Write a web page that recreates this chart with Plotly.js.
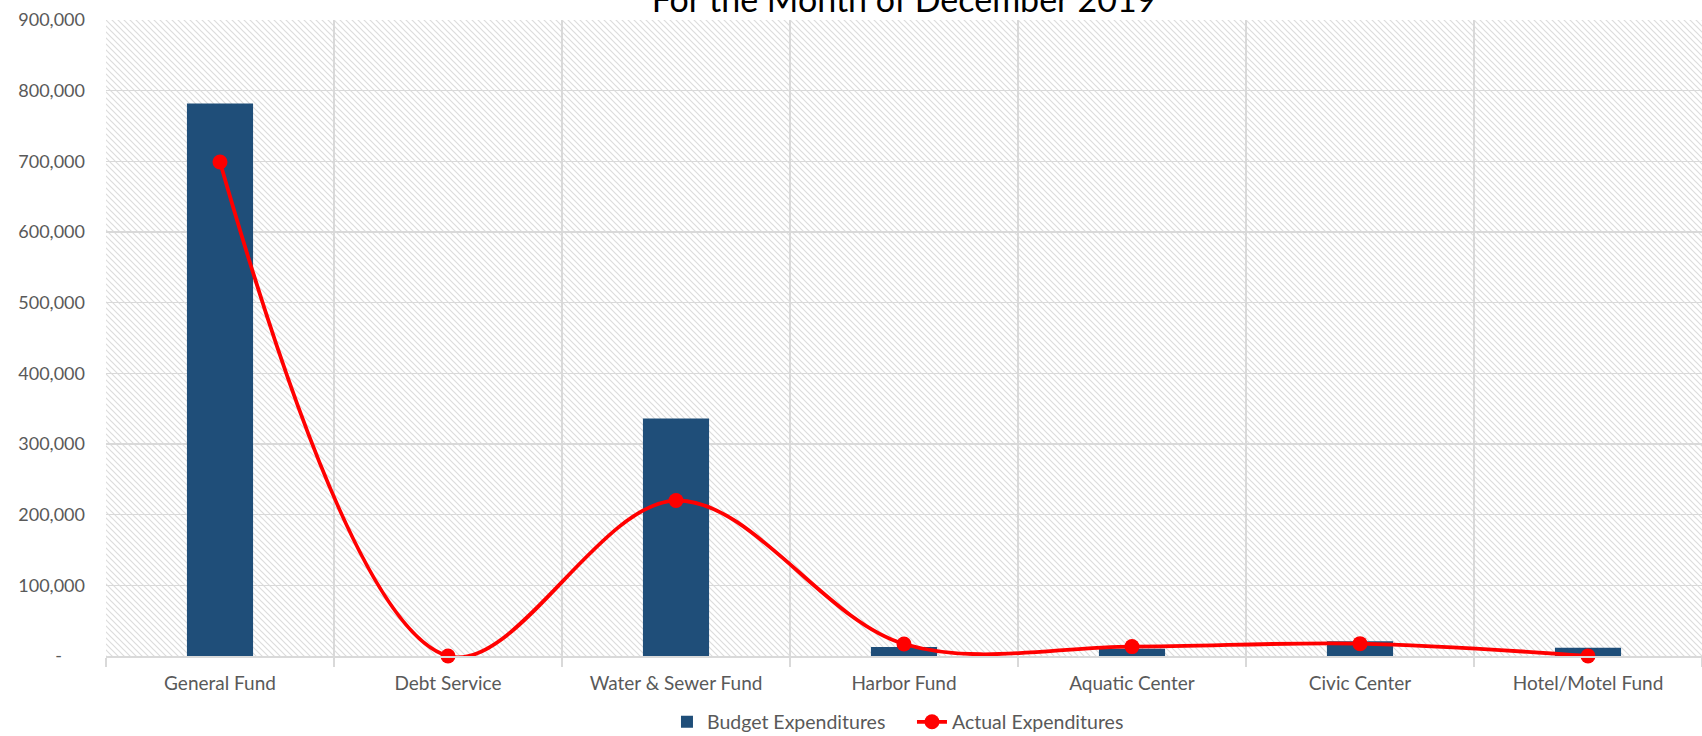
<!DOCTYPE html>
<html>
<head>
<meta charset="utf-8">
<script src="https://cdn.plot.ly/plotly-3.0.1.min.js"></script>
<style>
  html, body { margin: 0; padding: 0; background: #fff; }
  #chart { width: 1702px; height: 736px; }
</style>
</head>
<body>
<div id="chart"></div>
<script>
// Fund categories and monthly expenditure values
const categories = ['General Fund', 'Debt Service', 'Water & Sewer Fund', 'Harbor Fund',
                    'Aquatic Center', 'Civic Center', 'Hotel/Motel Fund'];
const budgetExpenditures = [782000, 0, 336000, 12800, 10400, 20900, 11800];
const actualExpenditures = [699000, 0, 220000, 17000, 13300, 17500, 0];
const yTickValues = [0, 100000, 200000, 300000, 400000, 500000, 600000, 700000, 800000, 900000];
const yTickLabels = ['-\u00a0\u00a0\u00a0\u00a0\u00a0', '100,000', '200,000', '300,000', '400,000',
                     '500,000', '600,000', '700,000', '800,000', '900,000'];

const W = 1702, H = 736;
const M = { l: 106, r: 0, t: 20, b: 80, autoexpand: false };
const plotW = W - M.l - M.r, plotH = H - M.t - M.b;

// Diagonal hatch fill for the plot area
const hatchSvg =
  '<svg xmlns="http://www.w3.org/2000/svg" width="' + plotW + '" height="' + plotH + '">' +
  '<defs><pattern id="h" patternUnits="userSpaceOnUse" width="6" height="6">' +
  '<path d="M-1,-1 L7,7 M-1,5 L1,7 M5,-1 L7,1" stroke="#dcdcdc" stroke-width="1.2"/>' +
  '</pattern></defs>' +
  '<rect width="100%" height="100%" fill="#ffffff"/>' +
  '<rect width="100%" height="100%" fill="url(#h)"/></svg>';
const hatchUri = 'data:image/svg+xml;charset=utf-8,' + encodeURIComponent(hatchSvg);

const FONT = 'Lato, "Open Sans", sans-serif';
const GRID = '#d9d9d9';

const traces = [
  {
    type: 'bar',
    name: 'Budget Expenditures',
    x: categories,
    y: budgetExpenditures,
    marker: { color: '#1f4e79' },
    hoverinfo: 'x+y'
  },
  {
    type: 'scatter',
    mode: 'lines+markers',
    name: 'Actual Expenditures',
    x: categories,
    y: actualExpenditures,
    line: { color: '#ff0000', width: 3.8, shape: 'spline', smoothing: 1 },
    marker: { color: '#ff0000', size: 15 },
    cliponaxis: false
  }
];

const layout = {
  width: W, height: H,
  margin: M,
  paper_bgcolor: '#ffffff',
  plot_bgcolor: 'rgba(0,0,0,0)',
  font: { family: FONT, color: '#595959', size: 18 },
  title: {
    text: 'For the Month of December 2019',
    font: { family: FONT, size: 34, color: '#000000' },
    x: 0.5, xref: 'paper',
    y: 1, yref: 'container', yanchor: 'middle'
  },
  bargap: 0.71,
  showlegend: true,
  legend: {
    orientation: 'h',
    x: 0.505, xanchor: 'center',
    y: -0.104, yanchor: 'middle',
    entrywidth: 200,
    font: { family: FONT, size: 19.5, color: '#595959' },
    bgcolor: 'rgba(0,0,0,0)'
  },
  xaxis: {
    type: 'category',
    automargin: false,
    tickson: 'boundaries',
    showgrid: true,
    gridcolor: GRID,
    gridwidth: 1.5,
    showline: true,
    linecolor: GRID,
    linewidth: 1.5,
    ticks: 'outside',
    ticklen: 9,
    tickcolor: GRID,
    tickwidth: 1.5,
    ticklabelstandoff: 10,
    tickfont: { family: FONT, size: 19, color: '#595959' },
    fixedrange: true
  },
  yaxis: {
    range: [0, 900000],
    automargin: false,
    tickvals: yTickValues,
    ticktext: yTickLabels,
    showgrid: true,
    gridcolor: GRID,
    gridwidth: 1.5,
    zeroline: false,
    showline: false,
    ticks: '',
    ticklabelstandoff: 20,
    tickfont: { family: FONT, size: 18, color: '#595959' },
    fixedrange: true
  },
  images: [{
    source: hatchUri,
    xref: 'paper', yref: 'paper',
    x: 0, y: 1, sizex: 1, sizey: 1,
    xanchor: 'left', yanchor: 'top',
    sizing: 'stretch',
    layer: 'below'
  }]
};

Plotly.newPlot('chart', traces, layout, { displayModeBar: false, staticPlot: true });
</script>
</body>
</html>
